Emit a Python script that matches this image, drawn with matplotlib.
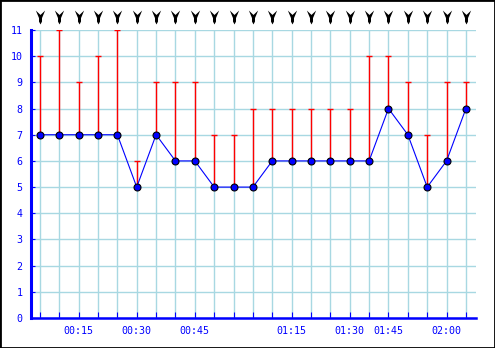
import matplotlib
matplotlib.use("Agg")
import matplotlib.pyplot as plt
from matplotlib.path import Path
from matplotlib.patches import Rectangle
import matplotlib.transforms as mtrans
import numpy as np

values = [7, 7, 7, 7, 7, 5, 7, 6, 6, 5, 5, 5, 6, 6, 6, 6, 6, 6, 8, 7, 5, 6, 8]
maxima = [10, 11, 9, 10, 11, 6, 9, 9, 9, 7, 7, 8, 8, 8, 8, 8, 8, 10, 10, 9, 7, 9, 9]
wind_dir = [0] * 23  # arrows all pointing down
tick_label_idx = [2, 5, 8, 13, 16, 18, 21]
tick_labels = ["00:15", "00:30", "00:45", "01:15", "01:30", "01:45", "02:00"]
yticks = list(range(0, 12))

BLUE = "#0000ff"
GRID = "#a8d8e2"

fig = plt.figure(figsize=(4.95, 3.48), dpi=100)
ax = fig.add_axes([31 / 495, 30 / 348, 445 / 495, 288 / 348])

x = np.arange(len(values))
ax.set_xlim(-0.46, 22.52)
ax.set_ylim(0, 11)

ax.set_xticks(x)
ax.set_yticks(yticks)
ax.grid(True, color=GRID, linewidth=1.0)
ax.set_axisbelow(True)

v = np.array(values)
m = np.array(maxima)
ax.errorbar(x, v, yerr=[np.zeros_like(v), m - v], fmt="none", ecolor="#ff0000",
            elinewidth=1.0, capsize=2.2, capthick=1.0, zorder=3)

ax.plot(x, values, color=BLUE, linewidth=0.8, marker="o", markersize=5.0,
        markerfacecolor=BLUE, markeredgecolor="black", markeredgewidth=0.8, zorder=4)

for s in ["top", "right"]:
    ax.spines[s].set_visible(False)
ax.spines["left"].set_color(BLUE)
ax.spines["left"].set_linewidth(2.2)
ax.spines["bottom"].set_color(BLUE)
ax.spines["bottom"].set_linewidth(1.8)

font = {"family": "DejaVu Sans Mono", "size": 7.2}
ax.set_xticklabels([""] * len(x))
ax.tick_params(axis="x", direction="in", length=4, width=0.8, color=BLUE, pad=6)
ax.tick_params(axis="y", direction="in", length=3, width=0.8, color=BLUE, pad=6,
               labelcolor=BLUE)
for lab in ax.get_yticklabels():
    lab.set_fontfamily("DejaVu Sans Mono")
    lab.set_fontsize(7.2)

trans = mtrans.blended_transform_factory(ax.transData, ax.transAxes)
for i, t in zip(tick_label_idx, tick_labels):
    ax.text(i, -8 / 288, t, transform=trans, ha="center", va="top",
            color=BLUE, **font)

verts = [(-0.4, 0.6), (0.0, 0.22), (0.4, 0.6), (0.13, -0.05), (0.13, -0.35),
         (0.0, -0.6), (-0.13, -0.35), (-0.13, -0.05), (-0.4, 0.6)]
codes = [Path.MOVETO] + [Path.LINETO] * (len(verts) - 2) + [Path.CLOSEPOLY]
arrow = Path(verts, codes)
for xi, d in zip(x, wind_dir):
    mk = arrow.transformed(mtrans.Affine2D().rotate_deg(d))
    ax.plot([xi], [1 + 13 / 288], marker=mk, markersize=10, color="black",
            markeredgewidth=0, transform=trans, clip_on=False)

fig.patches.append(Rectangle((0, 0), 1, 1, transform=fig.transFigure, fill=False,
                             edgecolor="black", linewidth=2.0))

fig.savefig("out.png", dpi=100)
